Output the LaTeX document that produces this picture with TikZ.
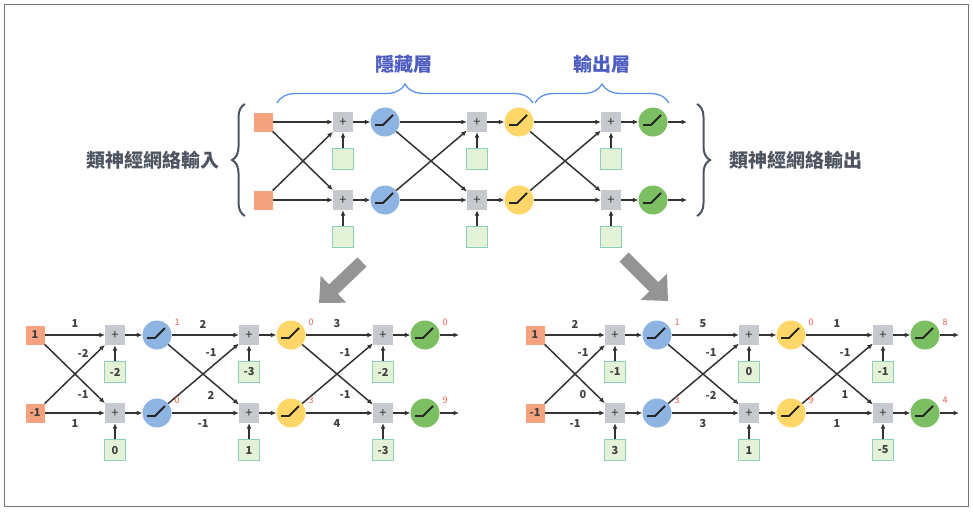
\documentclass[tikz,border=0pt]{standalone}
\usepackage{fontspec}
\newfontfamily\cjk{Noto Sans CJK TC}
\usetikzlibrary{arrows.meta,decorations.pathreplacing,calc}

\definecolor{inred}{RGB}{244,162,128}
\definecolor{sumgray}{RGB}{198,201,206}
\definecolor{biasgreen}{RGB}{228,242,216}
\definecolor{biasedge}{RGB}{140,208,186}
\definecolor{relublue}{RGB}{142,180,226}
\definecolor{reluyellow}{RGB}{255,214,104}
\definecolor{relugreen}{RGB}{124,190,98}
\definecolor{outred}{RGB}{236,92,82}
\definecolor{bracegray}{RGB}{78,84,96}
\definecolor{braceblue}{RGB}{92,146,230}
\definecolor{titleblue}{RGB}{76,92,192}

\tikzset{
  inbox/.style={fill=inred, minimum size=19pt, inner sep=0pt, font=\cjk\bfseries\fontsize{10.5}{10.5}\selectfont, text=black!75},
  sumbox/.style={fill=sumgray, minimum size=20pt, inner sep=0pt, font=\cjk\fontsize{13}{13}\selectfont, text=black!80},
  biasbox/.style={draw=biasedge, fill=biasgreen, line width=0.8pt, minimum size=21pt, inner sep=0pt},
  relu/.style={circle, fill=#1, minimum size=29pt, inner sep=0pt},
  reluline/.style={draw=black!85, line width=1.9pt},
  wire/.style={draw=black!80, line width=1.5pt, -{Latex[length=5.5pt,width=5pt]}},
  wlabel/.style={font=\cjk\bfseries\fontsize{11}{11}\selectfont, text=black!75, inner sep=0pt},
  outlabel/.style={font=\cjk\fontsize{9}{9}\selectfont, text=outred, inner sep=0pt},
  bigarrow/.style={draw=black!42, line width=13pt, -{Triangle[width=36pt,length=20pt]}},
}

% one 2-2-2-2 net: inputs, sums with biases, relu units
\newcommand\drawnet[3]{%
  \begin{scope}[shift={(#2,#3)}]
    \node[inbox] (#1-in-1) at (0,0) {};
    \node[inbox] (#1-in-2) at (0,78) {};
    \foreach \k/\s/\c/\src in {1/80/relublue/in, 2/214/reluyellow/a1, 3/348/relugreen/a2}{
      \foreach \r/\y in {1/0, 2/78}{
        \node[sumbox] (#1-s\k-\r) at (\s,\y) {+};
        \node[biasbox] (#1-b\k-\r) at (\s,\y+37) {};
        \node[relu=\c] (#1-a\k-\r) at (\s+42,\y) {};
        \draw[reluline] ([shift={(-10,3)}]#1-a\k-\r.center) -- ++(8,0) -- ++(10,-10);
        \draw[wire] (#1-b\k-\r) -- (#1-s\k-\r);
        \draw[wire] (#1-s\k-\r) -- (#1-a\k-\r);
      }
      \draw[wire] (#1-\src-1) -- (#1-s\k-1);
      \draw[wire] (#1-\src-1) -- (#1-s\k-2);
      \draw[wire] (#1-\src-2) -- (#1-s\k-1);
      \draw[wire] (#1-\src-2) -- (#1-s\k-2);
    }
    \coordinate (#1-out-1) at (424,0);
    \coordinate (#1-out-2) at (424,78);
    \draw[wire] (#1-a3-1) -- (#1-out-1);
    \draw[wire] (#1-a3-2) -- (#1-out-2);
  \end{scope}}

% numbers on a net: inputs, then per layer
% k/source/w top/w cross up/w cross down/w bottom/bias 1/bias 2/out 1/out 2
\newcommand\labelnet[4]{%
  \node[wlabel] (#1-x-1) at (#1-in-1) {#2};
  \node[wlabel] (#1-x-2) at (#1-in-2) {#3};
  \foreach \k/\src/\wtop/\wup/\wdown/\wbot/\bone/\btwo/\oone/\otwo in {#4}{
    \node[wlabel] (#1-w\k-a) at ($(#1-\src-1)!0.5!(#1-s\k-1)+(0,-11)$) {\wtop};
    \node[wlabel] (#1-w\k-b) at ($(#1-\src-1)!0.5!(#1-s\k-2)+(8,-21)$) {\wup};
    \node[wlabel] (#1-w\k-c) at ($(#1-\src-1)!0.5!(#1-s\k-2)+(8,21)$) {\wdown};
    \node[wlabel] (#1-w\k-d) at ($(#1-\src-2)!0.5!(#1-s\k-2)+(0,11)$) {\wbot};
    \node[wlabel] (#1-v\k-1) at (#1-b\k-1) {\bone};
    \node[wlabel] (#1-v\k-2) at (#1-b\k-2) {\btwo};
    \node[outlabel] (#1-o\k-1) at ([shift={(20,-13)}]#1-a\k-1.center) {\oone};
    \node[outlabel] (#1-o\k-2) at ([shift={(20,-13)}]#1-a\k-2.center) {\otwo};
  }}

\begin{document}
\begin{tikzpicture}[x=1pt,y=-1pt]
  \useasboundingbox (0,0) rectangle (973,511);
  \draw[black!55, line width=1pt] (4,5) rectangle (968,506);

  %top net
  \drawnet{T}{263}{122}
  \draw[bracegray, line width=2pt, decorate, decoration={brace, amplitude=13pt}] (245,216) -- (245,104);
  \draw[bracegray, line width=2pt, decorate, decoration={brace, amplitude=13pt}] (697,104) -- (697,216);
  \node[anchor=east, text=bracegray, font=\cjk\bfseries\fontsize{19}{19}\selectfont] (inname) at (223,160) {類神經網絡輸入};
  \node[anchor=west, text=bracegray, font=\cjk\bfseries\fontsize{19}{19}\selectfont] (outname) at (726,160) {類神經網絡輸出};

  %layer braces
  \draw[braceblue, line width=1.3pt, decorate, decoration={brace, amplitude=19pt}] (277,103) -- (533,103);
  \draw[braceblue, line width=1.3pt, decorate, decoration={brace, amplitude=19pt}] (535,103) -- (669,103);
  \node[text=titleblue, font=\cjk\bfseries\fontsize{19}{19}\selectfont] (hidden) at (404,64) {隱藏層};
  \node[text=titleblue, font=\cjk\bfseries\fontsize{19}{19}\selectfont] (outlayer) at (602,64) {輸出層};

  \draw[bigarrow] (362,262) -- (319,303);
  \draw[bigarrow] (624,257) -- (668,301);

  %left example
  \drawnet{L}{35}{335}
  \labelnet{L}{1}{-1}{1/in/1/-2/-1/1/-2/0/1/0, 2/a1/2/-1/2/-1/-3/1/0/3, 3/a2/3/-1/-1/4/-2/-3/0/9}

  %right example
  \drawnet{R}{535}{335}
  \labelnet{R}{1}{-1}{1/in/2/-1/0/-1/-1/3/1/3, 2/a1/5/-1/-2/3/0/1/0/9, 3/a2/1/-1/1/1/-1/-5/8/4}
\end{tikzpicture}
\end{document}
